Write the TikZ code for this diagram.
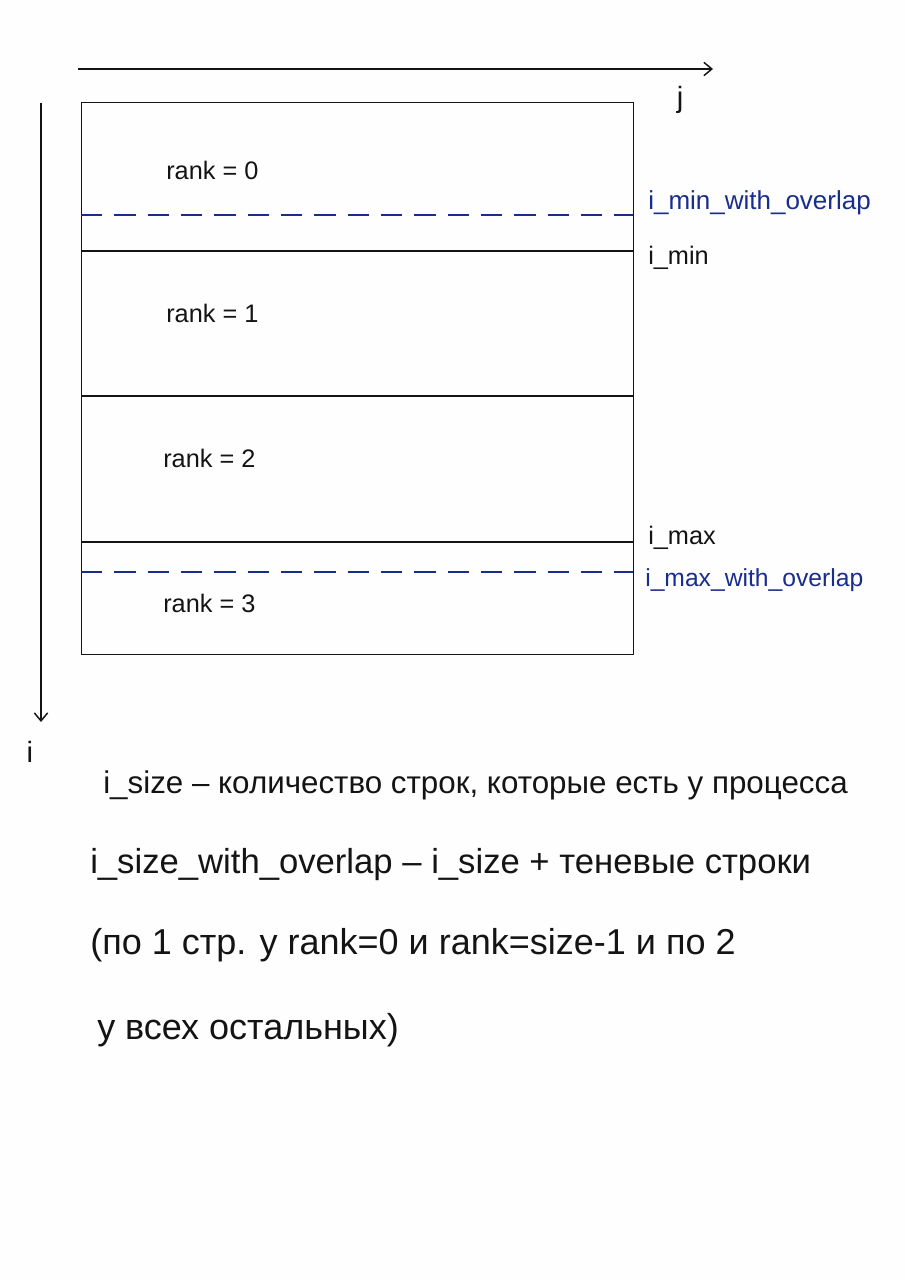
\documentclass[tikz,border=0pt]{standalone}
\usepackage{fontspec}
\setmainfont{Liberation Sans}
\usetikzlibrary{arrows.meta}
\definecolor{ink}{RGB}{20,20,20}
\definecolor{bluink}{RGB}{25,45,140}
\begin{document}
\begin{tikzpicture}[x=0.75pt,y=-0.75pt,
  pen/.style={draw=ink,line width=1.1pt},
  bluedash/.style={draw=bluink,line width=1.1pt,dash pattern=on 16pt off 9pt},
  lbl/.style={text=ink,font=\fontsize{19}{22}\selectfont,inner sep=0pt},
  blbl/.style={text=bluink,font=\fontsize{19.5}{22}\selectfont,inner sep=0pt,anchor=west},
  note/.style={text=ink,inner sep=0pt,anchor=west}]
\fill[white!99!gray] (0,0) rectangle (905,1280);
\useasboundingbox (0,0) rectangle (905,1280);
% axes
\coordinate (jstart) at (78,69);
\coordinate (jend) at (713,69);
\coordinate (istart) at (41,103);
\coordinate (iend) at (41,722);
\draw[pen,-{Straight Barb[length=6pt,width=10pt]}] (jstart) -- (jend);
\draw[pen,-{Straight Barb[length=6pt,width=10pt]}] (istart) -- (iend);
\node[lbl,font=\fontsize{22}{26}\selectfont] (jlab) at (680,100) {j};
\node[lbl,font=\fontsize{22}{26}\selectfont] (ilab) at (30,752) {i};
% box
\node[pen,minimum width=552*0.75pt,minimum height=552*0.75pt,anchor=north west,inner sep=0pt] (box) at (81,102) {};
\coordinate (l1w) at (81,251); \coordinate (l1e) at (633,251);
\coordinate (l2w) at (81,396); \coordinate (l2e) at (633,396);
\coordinate (l3w) at (81,542); \coordinate (l3e) at (633,542);
\draw[pen] (l1w) -- (l1e);
\draw[pen] (l2w) -- (l2e);
\draw[pen] (l3w) -- (l3e);
\coordinate (d1w) at (81,215); \coordinate (d1e) at (633,215);
\coordinate (d2w) at (81,572); \coordinate (d2e) at (633,572);
\draw[bluedash] (d1w) -- (d1e);
\draw[bluedash] (d2w) -- (d2e);
% rank labels
\node[lbl,anchor=west] (r0) at (166,170) {rank = 0};
\node[lbl,anchor=west] (r1) at (166,313) {rank = 1};
\node[lbl,anchor=west] (r2) at (163,458) {rank = 2};
\node[lbl,anchor=west] (r3) at (163,603) {rank = 3};
% side labels
\node[blbl] (iminov) at (648,203) {i\_min\_with\_overlap};
\node[lbl,anchor=west] (imin) at (648,258) {i\_min};
\node[lbl,anchor=west] (imax) at (648,538) {i\_max};
\node[blbl,font=\fontsize{18.5}{22}\selectfont] (imaxov) at (645,580) {i\_max\_with\_overlap};
% notes
\node[note,font=\fontsize{23.5}{28}\selectfont] (n1) at (103,785) {i\_size – количество строк, которые есть у процесса};
\node[note,font=\fontsize{26}{30}\selectfont] (n2) at (90,865) {i\_size\_with\_overlap – i\_size + теневые строки};
\node[note,font=\fontsize{27}{31}\selectfont] (n3) at (90,945) {(по 1 стр. у rank=0 и rank=size-1 и по 2};
\node[note,font=\fontsize{27}{31}\selectfont] (n4) at (97,1030) {у всех остальных)};
\end{tikzpicture}
\end{document}
